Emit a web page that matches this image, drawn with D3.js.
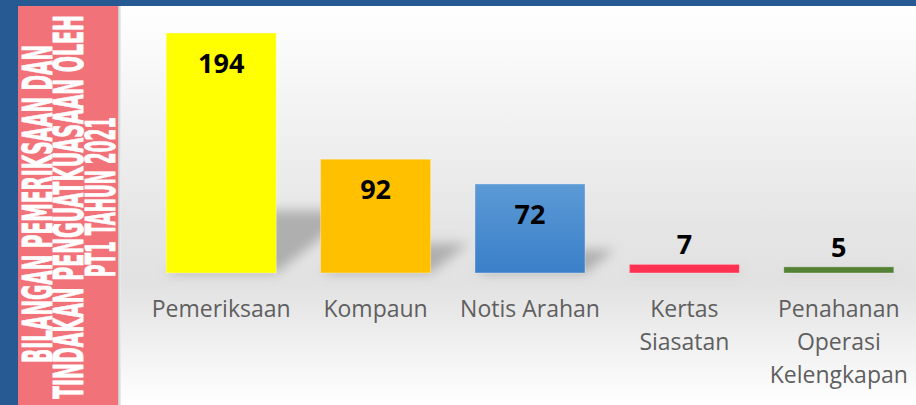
<!DOCTYPE html>
<html>
<head>
<meta charset="utf-8">
<script src="https://cdn.jsdelivr.net/npm/d3@7"></script>
<style>
  body { margin: 0; background: #fff; }
  svg { display: block; }
</style>
</head>
<body>
<svg width="916" height="405"></svg>
<script>
const categories = ['Pemeriksaan', 'Kompaun', 'Notis Arahan', 'Kertas Siasatan', 'Penahanan Operasi Kelengkapan'];
const categoryLines = [['Pemeriksaan'], ['Kompaun'], ['Notis Arahan'], ['Kertas', 'Siasatan'], ['Penahanan', 'Operasi', 'Kelengkapan']];
const values = [194, 92, 72, 7, 5];
const barColors = ['#ffff00', '#ffc000', 'url(#blueGrad)', '#ff3151', '#548235'];
const titleLines = ['BILANGAN PEMERIKSAAN DAN', 'TINDAKAN PENGUATKUASAAN OLEH', 'PT1 TAHUN 2021'];

function whenLoaded(){
    const svg = d3.select('svg');
    const width = +svg.attr('width');
    const height = +svg.attr('height');

    const defs = svg.append('defs');

    const bg = defs.append('linearGradient').attr('id', 'bgGrad')
        .attr('x1', 0).attr('y1', 0).attr('x2', 0).attr('y2', 1);
    bg.append('stop').attr('offset', 0).attr('stop-color', '#ffffff');
    bg.append('stop').attr('offset', 0.55).attr('stop-color', '#e5e5e5');
    bg.append('stop').attr('offset', 0.7).attr('stop-color', '#e2e2e2');
    bg.append('stop').attr('offset', 1).attr('stop-color', '#ffffff');

    const blue = defs.append('linearGradient').attr('id', 'blueGrad')
        .attr('x1', 0).attr('y1', 0).attr('x2', 0).attr('y2', 1);
    blue.append('stop').attr('offset', 0).attr('stop-color', '#5c9ad6');
    blue.append('stop').attr('offset', 1).attr('stop-color', '#3a7fc8');

    const edge = defs.append('linearGradient').attr('id', 'edgeGrad')
        .attr('x1', 0).attr('y1', 0).attr('x2', 1).attr('y2', 0);
    edge.append('stop').attr('offset', 0).attr('stop-color', '#c8c8c8');
    edge.append('stop').attr('offset', 1).attr('stop-color', '#f0f0f0');

    defs.append('filter').attr('id', 'blur')
        .attr('x', '-50%').attr('y', '-50%').attr('width', '200%').attr('height', '200%')
        .append('feGaussianBlur').attr('stdDeviation', 6);

    // background + frame
    svg.append('rect').attr('x', 118).attr('y', 6).attr('width', width - 118).attr('height', height - 6)
        .attr('fill', 'url(#bgGrad)');
    svg.append('rect').attr('x', 118).attr('y', 6).attr('width', 3).attr('height', height - 6)
        .attr('fill', 'url(#edgeGrad)');
    svg.append('rect').attr('x', 0).attr('y', 0).attr('width', width).attr('height', 6)
        .attr('fill', '#275a92');
    svg.append('rect').attr('x', 0).attr('y', 0).attr('width', 18).attr('height', height)
        .attr('fill', '#275a92');
    svg.append('rect').attr('x', 18).attr('y', 6).attr('width', 100).attr('height', height - 6)
        .attr('fill', '#f2727a');

    // title, rotated to read bottom to top, squeezed to fit the panel
    const titleBase = [52, 83, 115];
    const titleCenter = [204, 207, 197];
    const titleLen = [318, 384, 160];
    titleLines.forEach((line, i) => {
        const g = svg.append('g');
        const t = g.append('text')
            .attr('x', 0).attr('y', 0)
            .attr('text-anchor', 'middle')
            .attr('fill', '#ffffff')
            .attr('stroke', '#ffffff')
            .attr('stroke-width', 0.8)
            .style('font-family', '"Liberation Sans Narrow", "DejaVu Sans Condensed", sans-serif')
            .style('font-weight', 'bold')
            .style('font-size', '40px')
            .text(line);
        const natural = t.node().getComputedTextLength();
        const k = titleLen[i] / natural;
        g.attr('transform', `translate(${titleBase[i]},${titleCenter[i]}) rotate(-90) scale(${k},1)`);
    });

    const margin = {top: 6, right: 0, bottom: 132, left: 144};
    const innerBottom = height - margin.bottom; // baseline ~273

    const xScale = d3.scaleBand()
        .domain(categories)
        .range([margin.left, width - margin.right])
        .paddingInner(0.287)
        .paddingOuter(0.1435);

    const yScale = d3.scaleLinear()
        .domain([0, 194])
        .range([innerBottom, innerBottom - 240]);

    const data = categories.map((c, i) => ({cat: c, value: values[i], color: barColors[i], lines: categoryLines[i]}));

    // perspective shadows
    const sx = 0.33, sk = 0.26;
    svg.append('g').attr('filter', 'url(#blur)')
        .selectAll('polygon').data(data).enter().append('polygon')
        .attr('points', d => {
            const h = yScale(0) - yScale(d.value);
            const x0 = xScale(d.cat), x1 = x0 + xScale.bandwidth();
            const y0 = yScale(0);
            return [[x0, y0], [x1, y0], [x1 + sx * h, y0 - sk * h], [x0 + sx * h, y0 - sk * h]].join(' ');
        })
        .attr('fill', '#8a8a8a')
        .attr('opacity', 0.6);

    svg.append('g').selectAll('rect').data(data).enter().append('rect')
        .attr('x', d => xScale(d.cat))
        .attr('y', d => yScale(d.value))
        .attr('width', xScale.bandwidth())
        .attr('height', d => yScale(0) - yScale(d.value))
        .attr('fill', d => d.color)
        .attr('stroke', 'rgba(255,255,255,0.35)')
        .attr('stroke-width', 1);

    // value labels
    svg.append('g').selectAll('text').data(data).enter().append('text')
        .attr('x', d => xScale(d.cat) + xScale.bandwidth() / 2)
        .attr('y', d => {
            const h = yScale(0) - yScale(d.value);
            return h > 40 ? yScale(d.value) + 40 : yScale(d.value) - 10;
        })
        .attr('text-anchor', 'middle')
        .attr('fill', '#000')
        .style('font-family', '"Open Sans", sans-serif')
        .style('font-weight', 'bold')
        .style('font-size', '27px')
        .text(d => d.value);

    // category labels
    const labelG = svg.append('g').selectAll('text').data(data).enter().append('text')
        .attr('x', d => xScale(d.cat) + xScale.bandwidth() / 2)
        .attr('y', 317)
        .attr('text-anchor', 'middle')
        .attr('fill', '#5f5f5f')
        .style('font-family', '"Open Sans", sans-serif')
        .style('font-size', '23px');
    labelG.selectAll('tspan').data(d => d.lines).enter().append('tspan')
        .attr('x', function(){ return d3.select(this.parentNode).attr('x'); })
        .attr('dy', (d, i) => i === 0 ? 0 : 33)
        .text(d => d);
}

window.onload = whenLoaded;
</script>
</body>
</html>
